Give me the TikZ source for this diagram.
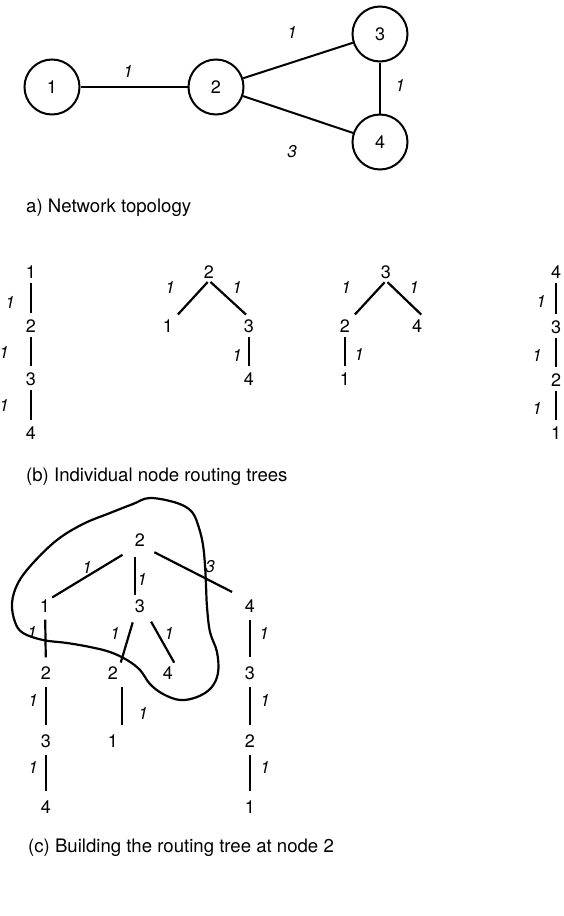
\documentclass[tikz,border=0pt]{standalone}
\usepackage{fontspec}
\setmainfont{TeX Gyre Heros}
\tikzset{
  vtx/.style={circle, draw, line width=2pt, minimum size=55pt, inner sep=0pt, font=\fontsize{18}{21}\selectfont},
  link/.style={line width=2pt},
  wt/.style={inner sep=0pt, font=\fontsize{17}{20}\selectfont\itshape},
  tn/.style={inner sep=2pt, font=\fontsize{18}{21}\selectfont},
  br/.style={line width=2.2pt, shorten <=2pt, shorten >=4pt},
  brc/.style={br, shorten <=5pt, shorten >=7pt},
  captext/.style={anchor=base west, inner sep=0pt, font=\fontsize{18.6}{22}\selectfont}
}
\begin{document}
\begin{tikzpicture}[x=1pt, y=-1pt]
    \useasboundingbox (0,0) rectangle (564,916);

    % a) network
    \node[vtx] (N1) at (52,87) {1};
    \node[vtx] (N2) at (216,87) {2};
    \node[vtx] (N3) at (380,34) {3};
    \node[vtx] (N4) at (380,142) {4};
    \draw[link] (N1) -- (N2);
    \draw[link] (N2) -- (N3);
    \draw[link] (N2) -- (N4);
    \draw[link] (N3) -- (N4);
    \node[wt] (w12) at (128,71) {1};
    \node[wt] (w23) at (292,32) {1};
    \node[wt] (w34) at (400,85) {1};
    \node[wt] (w24) at (292,152) {3};
    \node[captext] (capA) at (26,212) {a) Network topology};

    % b) tree of node 1
    \node[tn] (T1a) at (31,272) {1};
    \node[tn] (T1b) at (31,326) {2};
    \node[tn] (T1c) at (31,379) {3};
    \node[tn] (T1d) at (31,433) {4};
    \draw[br] (T1a) -- (T1b);
    \draw[br] (T1b) -- (T1c);
    \draw[br] (T1c) -- (T1d);
    \node[wt] at (10,302) {1};
    \node[wt] at (4,352) {1};
    \node[wt] at (4,405) {1};

    % b) tree of node 2
    \node[tn] (T2r) at (209,272) {2};
    \node[tn] (T2a) at (168,326) {1};
    \node[tn] (T2b) at (249,326) {3};
    \node[tn] (T2c) at (249,379) {4};
    \draw[br] (T2r.south) -- (T2a.north east);
    \draw[br] (T2r.south) -- (T2b.north);
    \draw[br] (T2b) -- (T2c);
    \node[wt] at (170,287) {1};
    \node[wt] at (237,287) {1};
    \node[wt] at (237,355) {1};

    % b) tree of node 3
    \node[tn] (T3r) at (386,272) {3};
    \node[tn] (T3a) at (345,326) {2};
    \node[tn] (T3b) at (417,326) {4};
    \node[tn] (T3c) at (345,379) {1};
    \draw[br] (T3r.south) -- (T3a.north east);
    \draw[br] (T3r.south) -- (T3b.north east);
    \draw[br] (T3a) -- (T3c);
    \node[wt] at (346,287) {1};
    \node[wt] at (414,287) {1};
    \node[wt] at (359,354) {1};

    % b) tree of node 4
    \node[tn] (T4a) at (556,272) {4};
    \node[tn] (T4b) at (556,327) {3};
    \node[tn] (T4c) at (556,380) {2};
    \node[tn] (T4d) at (556,433) {1};
    \draw[br] (T4a) -- (T4b);
    \draw[br] (T4b) -- (T4c);
    \draw[br] (T4c) -- (T4d);
    \node[wt] at (541,301) {1};
    \node[wt] at (537,355) {1};
    \node[wt] at (537,408) {1};
    \node[captext] (capB) at (26,481) {(b) Individual node routing trees};

    % c) merged tree at node 2
    \node[tn] (Cr) at (140,540) {2};
    \node[tn] (C1) at (45,606) {1};
    \node[tn] (C3) at (140,606) {3};
    \node[tn] (C4) at (250,606) {4};
    \node[tn] (C12) at (46,673) {2};
    \node[tn] (C32) at (113,673) {2};
    \node[tn] (C34) at (168,673) {4};
    \node[tn] (C43) at (250,673) {3};
    \node[tn] (C23) at (46,741) {3};
    \node[tn] (C21) at (113,741) {1};
    \node[tn] (C22) at (250,741) {2};
    \node[tn] (C24) at (46,807) {4};
    \node[tn] (C11) at (250,807) {1};

    \draw[br, shorten <=12pt, shorten >=0pt] (Cr.south west) -- (C1.north east);
    \draw[brc, shorten <=8pt, shorten >=2pt] ([xshift=-5pt]Cr.south) -- ([xshift=-5pt]C3.north);
    \draw[br, shorten <=8pt, shorten >=12pt] (Cr.south east) -- (C4.north west);
    \draw[brc] (C1) -- (C12);
    \draw[br, shorten <=8pt, shorten >=2pt] ([xshift=-5pt]C3.south) -- (C32.north east);
    \draw[br, shorten <=8pt, shorten >=2pt] (C3.south east) -- (C34.north east);
    \draw[brc] (C4) -- (C43);
    \draw[brc] (C12) -- (C23);
    \draw[brc] ([xshift=9pt]C32.south) -- ([xshift=9pt]C21.north);
    \draw[brc] (C43) -- (C22);
    \draw[brc] (C23) -- (C24);
    \draw[brc] (C22) -- (C11);

    \node[wt] at (87,567) {1};
    \node[wt] at (142,579) {1};
    \node[wt] at (210,567) {3};
    \node[wt] at (32,632) {1};
    \node[wt] at (115,633) {1};
    \node[wt] at (169,633) {1};
    \node[wt] at (264,633) {1};
    \node[wt] at (33,700) {1};
    \node[wt] at (143,713) {1};
    \node[wt] at (265,700) {1};
    \node[wt] at (33,767) {1};
    \node[wt] at (265,767) {1};

    % hand drawn loop round the tree of node 2
    \draw[line width=2.2pt] plot[smooth cycle, tension=0.6] coordinates {
      (150,498) (177,503) (192,512) (199,528) (203,545) (205,565) (206,585)
      (207,607) (210,632) (217,652) (218,673) (211,688) (197,697) (180,700)
      (163,694) (150,684) (140,670) (127,660) (110,652) (90,647) (67,643)
      (43,640) (23,633) (15,622) (12,603) (18,583) (33,563) (57,540)
      (83,524) (110,513) (133,504)};

    \node[captext] (capC) at (28,852) {(c) Building the routing tree at node 2};

\end{tikzpicture}
\end{document}
